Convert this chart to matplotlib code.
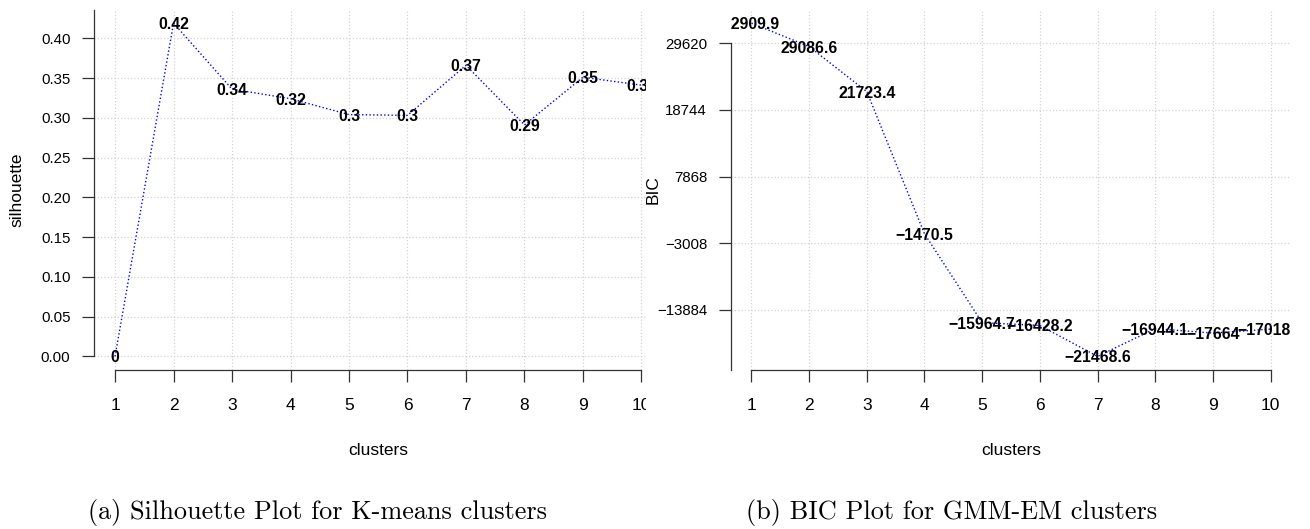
import matplotlib
matplotlib.use("Agg")
import matplotlib.pyplot as plt
from matplotlib.transforms import Bbox, TransformedBbox

# data
clusters = [1, 2, 3, 4, 5, 6, 7, 8, 9, 10]
silhouette = [0.0, 0.419, 0.336, 0.324, 0.304, 0.303, 0.366, 0.291, 0.351, 0.341]
bic = [32909.9, 29086.6, 21723.4, -1470.5, -15964.7, -16428.2, -21468.6,
       -16944.1, -17664.0, -17018.4]
sil_ticks = [0.00, 0.05, 0.10, 0.15, 0.20, 0.25, 0.30, 0.35, 0.40]
sil_ticklabels = ["0.00", "0.05", "0.10", "0.15", "0.20", "0.25", "0.30", "0.35", "0.40"]
bic_ticks = [29620, 18744, 7868, -3008, -13884]
bic_ticklabels = ["29620", "18744", "7868", "\u22123008", "\u221213884"]

W, H = 1310, 529
SANS = "Liberation Sans"
AXCOL = "#333333"


def px_rect(x0, y0, x1, y1):
    return [x0 / W, 1 - y1 / H, (x1 - x0) / W, (y1 - y0) / H]


def r_range(vals):
    # R style axis range: data range plus 4% each side
    lo, hi = min(vals), max(vals)
    pad = 0.04 * (hi - lo)
    return lo - pad, hi + pad


def fmt(v, digits):
    s = f"{round(v, digits):.{digits}f}".rstrip("0").rstrip(".")
    return s.replace("-", "\u2212")


def style(ax, yticks, yticklabels):
    for side in ["top", "right"]:
        ax.spines[side].set_visible(False)
    for side in ["left", "bottom"]:
        ax.spines[side].set_color(AXCOL)
        ax.spines[side].set_linewidth(0.9)
    ax.set_xticks(clusters)
    ax.set_xticklabels([str(c) for c in clusters], fontfamily=SANS)
    ax.set_yticks(yticks)
    ax.set_yticklabels(yticklabels, fontfamily=SANS)
    ax.tick_params(axis="both", direction="out", length=8.6, width=0.9, color=AXCOL)
    ax.tick_params(axis="x", labelsize=12.5, pad=12)
    ax.tick_params(axis="y", labelsize=10.8, pad=8.4)
    ax.grid(True, color="#d3d3d3", linestyle=":", linewidth=0.9)
    ax.set_axisbelow(True)
    ax.spines["bottom"].set_bounds(clusters[0], clusters[-1])


fig = plt.figure(figsize=(W / 100, H / 100), dpi=100)

# ---- (a) silhouette, left panel is cropped at x = 646 px
L_X0, L_X1, CROP = 94, 662.5, 646
ax1 = fig.add_axes(px_rect(L_X0, 9.8, CROP, 369.7))
xlo, xhi = r_range(clusters)
ax1.set_xlim(xlo, xlo + (xhi - xlo) * (CROP - L_X0) / (L_X1 - L_X0))
ylo, yhi = r_range(silhouette)
ax1.set_ylim(ylo, yhi)
style(ax1, sil_ticks, sil_ticklabels)
ax1.spines["left"].set_bounds(0, yhi)
ax1.plot(clusters, silhouette, color="blue", linestyle=":", linewidth=1.0)
for x, v in zip(clusters, silhouette):
    ax1.text(x, v, fmt(v, 2), ha="center", va="center_baseline", fontsize=11.3,
             fontweight="bold", fontfamily=SANS, clip_on=True)
crop_box = TransformedBbox(Bbox.from_extents(0, 0, CROP / W, 1), fig.transFigure)
for t in ax1.xaxis.get_major_ticks():
    t.label1.set_clip_box(crop_box)

# ---- (b) BIC
ax2 = fig.add_axes(px_rect(730.7, 9.8, 1291.3, 369.7))
ax2.set_xlim(*r_range(clusters))
blo, bhi = r_range(bic)
ax2.set_ylim(blo, bhi)
style(ax2, bic_ticks, bic_ticklabels)
ax2.spines["left"].set_bounds(blo, bic_ticks[0])
ax2.plot(clusters, bic, color="blue", linestyle=":", linewidth=1.0)
for x, v in zip(clusters, bic):
    ax2.text(x, v, fmt(v, 1), ha="center", va="center_baseline", fontsize=11.3,
             fontweight="bold", fontfamily=SANS, clip_on=True)

# axis titles
fig.text(17 / W, 1 - 190 / H, "silhouette", rotation=90, ha="center", va="center",
         fontsize=12.5, fontfamily=SANS)
fig.text(653 / W, 1 - 190 / H, "BIC", rotation=90, ha="center", va="center",
         fontsize=12.5, fontfamily=SANS)
fig.text(378 / W, 1 - 455 / H, "clusters", ha="center", va="baseline",
         fontsize=12.5, fontfamily=SANS)
fig.text(1011 / W, 1 - 455 / H, "clusters", ha="center", va="baseline",
         fontsize=12.5, fontfamily=SANS)

# captions
fig.text(318 / W, 1 - 519 / H, "(a) Silhouette Plot for K-means clusters",
         ha="center", va="baseline", fontsize=18.9, fontfamily="cmr10")
fig.text(952 / W, 1 - 519 / H, "(b) BIC Plot for GMM-EM clusters",
         ha="center", va="baseline", fontsize=18.9, fontfamily="cmr10")

fig.savefig("out.png", dpi=100)
